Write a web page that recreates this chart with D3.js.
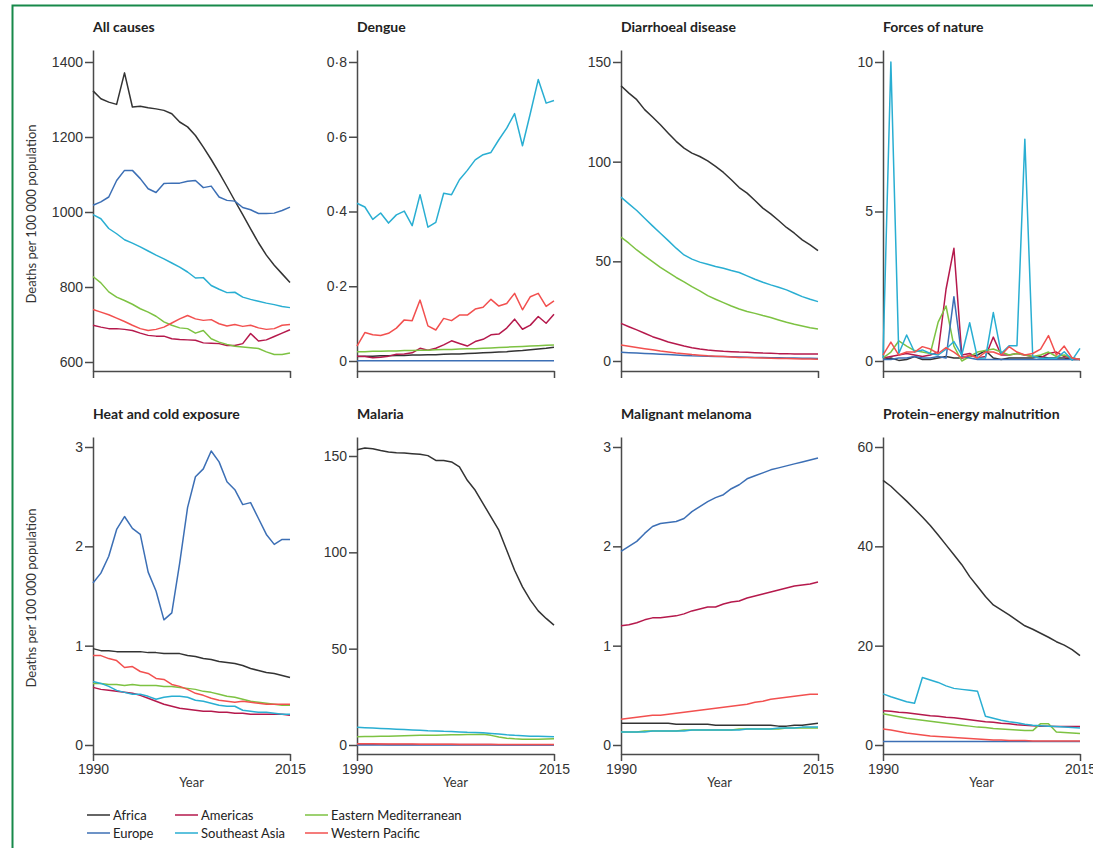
<!DOCTYPE html>
<html><head><meta charset="utf-8">
<script src="https://cdn.jsdelivr.net/npm/d3@7"></script>
<style>
html,body{margin:0;padding:0;background:#fff;}
svg{display:block;font-family:Lato,"Liberation Sans",sans-serif;}
.tick text{font-size:14px;fill:#333;}
.tick line,.domain{stroke:#4a4a4a;stroke-width:1.5;}
</style></head>
<body>
<svg id="c" width="1093" height="848"></svg>
<script>
const years = d3.range(1990, 2016);
const regions = ["Africa","Americas","Eastern Mediterranean","Europe","Southeast Asia","Western Pacific"];
const regionColors = ["#333333","#b5194c","#7dc242","#3c6fb5","#29aed2","#f2504f"];
const panelTitles = ["All causes","Dengue","Diarrhoeal disease","Forces of nature","Heat and cold exposure","Malaria","Malignant melanoma","Protein–energy malnutrition"];
const xTickValues = [1990, 2015];
const yTicksAllCauses = [600,800,1000,1200,1400];
const yTicksDengue = [0,0.2,0.4,0.6,0.8];
const yTicksDiarrhoeal = [0,50,100,150];
const yTicksForces = [0,5,10];
const yTicksHeat = [0,1,2,3];
const yTicksMalaria = [0,50,100,150];
const yTicksMelanoma = [0,1,2,3];
const yTicksProtein = [0,20,40,60];

// series order: Africa, Americas, Eastern Mediterranean, Europe, Southeast Asia, Western Pacific
const allCauses = [
 [1323,1302,1293,1287,1371,1280,1282,1278,1275,1271,1262,1240,1227,1204,1173,1140,1105,1068,1030,993,955,918,885,858,835,812],
 [698,693,689,689,687,684,677,671,669,669,662,660,659,658,651,650,649,644,644,649,676,656,659,668,677,686],
 [828,811,787,773,764,754,742,733,722,707,698,691,689,677,684,662,653,647,642,640,638,636,627,620,620,624],
 [1018,1027,1040,1084,1111,1111,1089,1062,1052,1076,1077,1077,1082,1084,1065,1069,1040,1031,1029,1012,1006,996,996,997,1004,1013],
 [993,982,956,942,926,917,907,896,885,875,864,853,840,824,825,804,794,785,786,773,767,762,757,753,748,745],
 [740,733,726,717,708,698,689,684,687,693,704,715,724,715,711,713,702,696,700,695,698,691,687,689,698,700]
];
const dengue = [
 [0.012,0.013,0.013,0.014,0.014,0.015,0.015,0.016,0.016,0.017,0.017,0.018,0.019,0.019,0.020,0.021,0.022,0.023,0.024,0.025,0.027,0.028,0.030,0.032,0.034,0.037],
 [0.013,0.012,0.009,0.010,0.013,0.018,0.019,0.022,0.034,0.029,0.034,0.043,0.054,0.047,0.040,0.052,0.058,0.070,0.072,0.088,0.112,0.085,0.096,0.119,0.101,0.125],
 [0.025,0.025,0.026,0.026,0.027,0.027,0.028,0.028,0.029,0.029,0.030,0.031,0.031,0.032,0.033,0.033,0.034,0.035,0.036,0.037,0.038,0.039,0.040,0.041,0.042,0.043],
 [0.001,0.001,0.001,0.001,0.001,0.001,0.001,0.001,0.001,0.001,0.001,0.001,0.001,0.001,0.001,0.001,0.001,0.001,0.001,0.001,0.001,0.001,0.001,0.001,0.001,0.001],
 [0.422,0.412,0.379,0.396,0.369,0.391,0.401,0.362,0.445,0.358,0.371,0.449,0.445,0.485,0.510,0.538,0.552,0.558,0.592,0.623,0.662,0.576,0.663,0.753,0.690,0.697],
 [0.040,0.076,0.070,0.068,0.074,0.088,0.110,0.108,0.163,0.094,0.083,0.114,0.108,0.123,0.123,0.139,0.144,0.165,0.147,0.154,0.181,0.137,0.172,0.181,0.146,0.161]
];
const diarrhoeal = [
 [138.1,134.4,131.1,126.1,122.4,118.5,114.3,110.2,106.8,104.3,102.6,100.4,97.6,94.6,90.9,87.0,84.2,80.5,76.7,73.8,70.5,67.0,64.1,60.8,58.3,55.4],
 [18.9,17.2,15.6,13.9,12.2,10.9,9.5,8.5,7.5,6.7,6.0,5.5,5.2,4.9,4.7,4.5,4.4,4.2,4.0,3.9,3.7,3.7,3.5,3.5,3.5,3.5],
 [62.1,59.1,55.7,52.7,49.9,47.0,44.4,41.9,39.7,37.3,35.2,32.8,31.0,29.3,27.6,26.1,24.8,23.9,22.8,21.8,20.6,19.4,18.4,17.6,16.7,16.1],
 [4.4,4.2,4.0,3.8,3.6,3.4,3.2,3.0,2.8,2.6,2.5,2.4,2.3,2.2,2.1,2.0,1.9,1.8,1.7,1.6,1.6,1.5,1.5,1.4,1.4,1.3],
 [82.2,78.8,75.5,71.6,67.8,64.1,60.4,56.6,53.2,51.1,49.6,48.5,47.4,46.5,45.4,44.4,42.7,41.0,39.5,38.2,37.0,35.7,34.0,32.3,31.0,29.8],
 [8.0,7.4,6.8,6.2,5.6,5.0,4.5,4.0,3.6,3.2,2.9,2.6,2.4,2.2,2.0,1.8,1.7,1.6,1.5,1.4,1.3,1.2,1.1,1.0,1.0,0.9]
];
const forcesOfNature = [
 [0.05,0.1,0.02,0.05,0.15,0.05,0.05,0.1,0.15,0.1,0.1,0.15,0.2,0.35,0.1,0.05,0.1,0.1,0.1,0.1,0.15,0.1,0.1,0.1,0.05,0.05],
 [0.1,0.15,0.2,0.25,0.2,0.15,0.2,0.3,2.4,3.77,0.2,0.25,0.1,0.15,0.8,0.2,0.2,0.25,0.2,0.15,0.1,0.25,0.3,0.15,0.1,0.05],
 [0.1,0.3,0.67,0.5,0.35,0.3,0.25,1.3,1.84,0.5,0.0,0.15,0.3,0.35,0.4,0.3,0.2,0.25,0.2,0.15,0.2,0.3,0.15,0.2,0.1,0.05],
 [0.05,0.05,0.1,0.1,0.15,0.1,0.1,0.15,0.1,2.15,0.15,0.1,0.05,0.05,0.05,0.05,0.05,0.05,0.05,0.05,0.05,0.05,0.05,0.05,0.05,0.05],
 [0.09,10.0,0.25,0.87,0.3,0.37,0.25,0.2,0.4,0.65,0.2,1.28,0.09,0.1,1.62,0.25,0.51,0.51,7.42,0.15,0.09,0.09,0.09,0.31,0.03,0.42],
 [0.2,0.63,0.2,0.3,0.3,0.48,0.4,0.25,0.45,0.3,0.1,0.2,0.1,0.3,0.3,0.2,0.48,0.3,0.2,0.25,0.4,0.85,0.2,0.5,0.1,0.05]
];
const heatCold = [
 [0.97,0.95,0.95,0.94,0.94,0.94,0.94,0.93,0.93,0.92,0.92,0.92,0.90,0.89,0.87,0.86,0.84,0.83,0.82,0.80,0.77,0.75,0.73,0.72,0.70,0.68],
 [0.58,0.56,0.55,0.54,0.53,0.52,0.50,0.47,0.44,0.41,0.39,0.37,0.36,0.35,0.34,0.34,0.33,0.33,0.32,0.32,0.31,0.31,0.31,0.31,0.31,0.30],
 [0.62,0.62,0.61,0.61,0.60,0.61,0.60,0.60,0.60,0.59,0.59,0.58,0.57,0.56,0.54,0.53,0.51,0.49,0.48,0.46,0.44,0.43,0.42,0.41,0.40,0.40],
 [1.63,1.73,1.90,2.17,2.30,2.18,2.12,1.74,1.55,1.26,1.33,1.83,2.39,2.70,2.78,2.96,2.85,2.65,2.57,2.42,2.44,2.28,2.12,2.02,2.07,2.07],
 [0.64,0.62,0.59,0.55,0.53,0.51,0.51,0.49,0.46,0.48,0.49,0.49,0.48,0.45,0.44,0.42,0.40,0.39,0.39,0.35,0.34,0.33,0.33,0.32,0.31,0.31],
 [0.90,0.90,0.87,0.85,0.78,0.79,0.74,0.72,0.67,0.66,0.61,0.59,0.56,0.52,0.50,0.47,0.45,0.44,0.43,0.44,0.43,0.42,0.41,0.41,0.41,0.41]
];
const malaria = [
 [153.3,154.1,153.8,152.9,152.1,151.7,151.5,151.2,150.9,150.2,147.7,147.7,146.9,144.3,137.4,132.2,125.3,118.4,111.5,101.1,90.7,82.1,75.2,69.6,65.7,62.2],
 [0.4,0.4,0.4,0.4,0.3,0.3,0.3,0.3,0.3,0.3,0.3,0.2,0.2,0.2,0.2,0.2,0.2,0.2,0.1,0.1,0.1,0.1,0.1,0.1,0.1,0.1],
 [4.3,4.4,4.4,4.5,4.6,4.7,4.8,4.9,5.0,5.0,5.1,5.2,5.3,5.3,5.4,5.5,5.6,5.0,4.2,3.5,3.2,3.0,3.0,3.0,3.1,3.2],
 [0,0,0,0,0,0,0,0,0,0,0,0,0,0,0,0,0,0,0,0,0,0,0,0,0,0],
 [9.2,9.0,8.8,8.6,8.4,8.2,8.0,7.8,7.6,7.4,7.3,7.1,7.0,6.8,6.6,6.5,6.3,6.0,5.7,5.3,5.0,4.8,4.6,4.5,4.4,4.3],
 [0.6,0.6,0.6,0.5,0.5,0.5,0.5,0.5,0.4,0.4,0.4,0.4,0.4,0.3,0.3,0.3,0.3,0.3,0.3,0.2,0.2,0.2,0.2,0.2,0.2,0.2]
];
const melanoma = [
 [0.22,0.22,0.22,0.22,0.22,0.22,0.22,0.21,0.21,0.21,0.21,0.21,0.20,0.20,0.20,0.20,0.20,0.20,0.20,0.20,0.19,0.19,0.20,0.20,0.21,0.22],
 [1.20,1.21,1.23,1.26,1.28,1.28,1.29,1.30,1.32,1.35,1.37,1.39,1.39,1.42,1.44,1.45,1.48,1.50,1.52,1.54,1.56,1.58,1.60,1.61,1.62,1.64],
 [0.13,0.13,0.13,0.14,0.14,0.14,0.14,0.14,0.15,0.15,0.15,0.15,0.15,0.15,0.15,0.16,0.16,0.16,0.16,0.16,0.16,0.17,0.17,0.17,0.17,0.17],
 [1.95,2.00,2.05,2.13,2.20,2.23,2.24,2.25,2.28,2.35,2.40,2.45,2.49,2.52,2.58,2.62,2.68,2.71,2.74,2.77,2.79,2.81,2.83,2.85,2.87,2.89],
 [0.13,0.13,0.13,0.13,0.14,0.14,0.14,0.14,0.14,0.15,0.15,0.15,0.15,0.15,0.15,0.15,0.16,0.16,0.16,0.16,0.17,0.17,0.17,0.18,0.18,0.18],
 [0.26,0.27,0.28,0.29,0.30,0.30,0.31,0.32,0.33,0.34,0.35,0.36,0.37,0.38,0.39,0.40,0.41,0.43,0.44,0.46,0.47,0.48,0.49,0.50,0.51,0.51]
];
const proteinEnergy = [
 [53.3,52.1,50.6,49.1,47.5,45.9,44.2,42.3,40.3,38.3,36.3,33.9,31.9,29.9,28.2,27.2,26.2,25.1,24.0,23.3,22.5,21.7,20.8,20.1,19.2,18.0],
 [6.9,6.8,6.6,6.5,6.3,6.1,5.9,5.8,5.6,5.5,5.3,5.1,4.9,4.7,4.6,4.4,4.3,4.1,4.0,3.9,3.8,3.8,3.7,3.7,3.7,3.7],
 [6.3,6.0,5.7,5.4,5.2,5.0,4.8,4.6,4.4,4.2,4.0,3.8,3.6,3.5,3.3,3.2,3.1,3.0,2.9,2.9,4.3,4.3,2.6,2.5,2.4,2.3],
 [0.7,0.7,0.7,0.7,0.7,0.7,0.7,0.7,0.7,0.7,0.7,0.7,0.7,0.7,0.7,0.7,0.7,0.7,0.7,0.7,0.7,0.7,0.7,0.7,0.7,0.7],
 [10.3,9.7,9.2,8.7,8.4,13.6,13.1,12.6,11.9,11.4,11.2,11.0,10.8,5.8,5.4,5.0,4.7,4.5,4.2,4.0,3.9,3.8,3.7,3.6,3.5,3.4],
 [3.2,3.0,2.7,2.4,2.2,2.0,1.8,1.7,1.6,1.5,1.4,1.3,1.2,1.1,1.0,1.0,0.9,0.9,0.9,0.8,0.8,0.8,0.8,0.8,0.8,0.8]
];

const panelData = [allCauses,dengue,diarrhoeal,forcesOfNature,heatCold,malaria,melanoma,proteinEnergy];
const panelTicks = [yTicksAllCauses,yTicksDengue,yTicksDiarrhoeal,yTicksForces,yTicksHeat,yTicksMalaria,yTicksMelanoma,yTicksProtein];

// layout
const colX = [93, 357, 621, 883];
const plotW = 197;
const rows = [
  {axisTop:50, axisBottom:371, titleY:32},
  {axisTop:437, axisBottom:754, titleY:419}
];
// pixel calibration: [bottom tick pixel, top tick pixel] per panel
const tickPx = [[362,62],[361,62],[361,62],[361,62],[745,447],[745,456],[745,447],[745,447]];

const svg = d3.select("#c");

// green frame
svg.append("path").attr("d","M12.5,848 V5.5 H1093").attr("fill","none").attr("stroke","#17894a").attr("stroke-width",2);

const fmt = v => String(v).replace(".", "·");

panelData.forEach((series, p) => {
  const r = Math.floor(p/4), c = p%4;
  const row = rows[r];
  const x0 = colX[c];
  const ticks = panelTicks[p];
  const x = d3.scaleLinear().domain([1990,2015]).range([x0, x0+plotW]);
  const cal = d3.scaleLinear().domain([ticks[0], ticks[ticks.length-1]]).range(tickPx[p]);
  const y = d3.scaleLinear().domain([cal.invert(row.axisBottom), cal.invert(row.axisTop)]).range([row.axisBottom, row.axisTop]);

  const g = svg.append("g");
  g.append("text").attr("x", x0).attr("y", row.titleY)
    .attr("font-size", 14).attr("font-weight", 700).attr("fill", "#222")
    .text(panelTitles[p]);

  g.append("g").attr("transform", `translate(${x0},0)`)
    .call(d3.axisLeft(y).tickValues(ticks).tickSize(8).tickSizeOuter(0).tickPadding(2).tickFormat(fmt));
  g.append("g").attr("transform", `translate(0,${row.axisBottom})`)
    .call(d3.axisBottom(x).tickValues(xTickValues).tickSize(7).tickSizeOuter(0).tickPadding(3)
      .tickFormat(r === 1 ? d3.format("d") : () => ""));
  if (r === 1) {
    g.append("text").attr("x", x0 + plotW/2).attr("y", row.axisBottom + 33)
      .attr("text-anchor","middle").attr("font-size",13).attr("fill","#333").text("Year");
  }

  const line = d3.line().x((d,i) => x(years[i])).y(d => y(d));
  series.forEach((vals, s) => {
    g.append("path").datum(vals).attr("d", line)
      .attr("fill","none").attr("stroke", regionColors[s]).attr("stroke-width", 1.5)
      .attr("stroke-linejoin","round");
  });
});

[214, 598].forEach(cy => {
  svg.append("text").attr("transform", `translate(36,${cy}) rotate(-90)`)
    .attr("text-anchor","middle").attr("font-size",13).attr("fill","#333")
    .text("Deaths per 100 000 population");
});

const legendX = [87, 175, 305];
const legendY = [815, 833];
const legendOrder = [[0,1,2],[3,4,5]];
legendOrder.forEach((rowIdx, ri) => {
  rowIdx.forEach((s, ci) => {
    const lx = legendX[ci], ly = legendY[ri];
    svg.append("line").attr("x1", lx).attr("x2", lx+23).attr("y1", ly).attr("y2", ly)
      .attr("stroke", regionColors[s]).attr("stroke-width", 1.5);
    svg.append("text").attr("x", lx+26).attr("y", ly).attr("dy","0.35em")
      .attr("font-size",13).attr("fill","#222").text(regions[s]);
  });
});
</script>
</body></html>
